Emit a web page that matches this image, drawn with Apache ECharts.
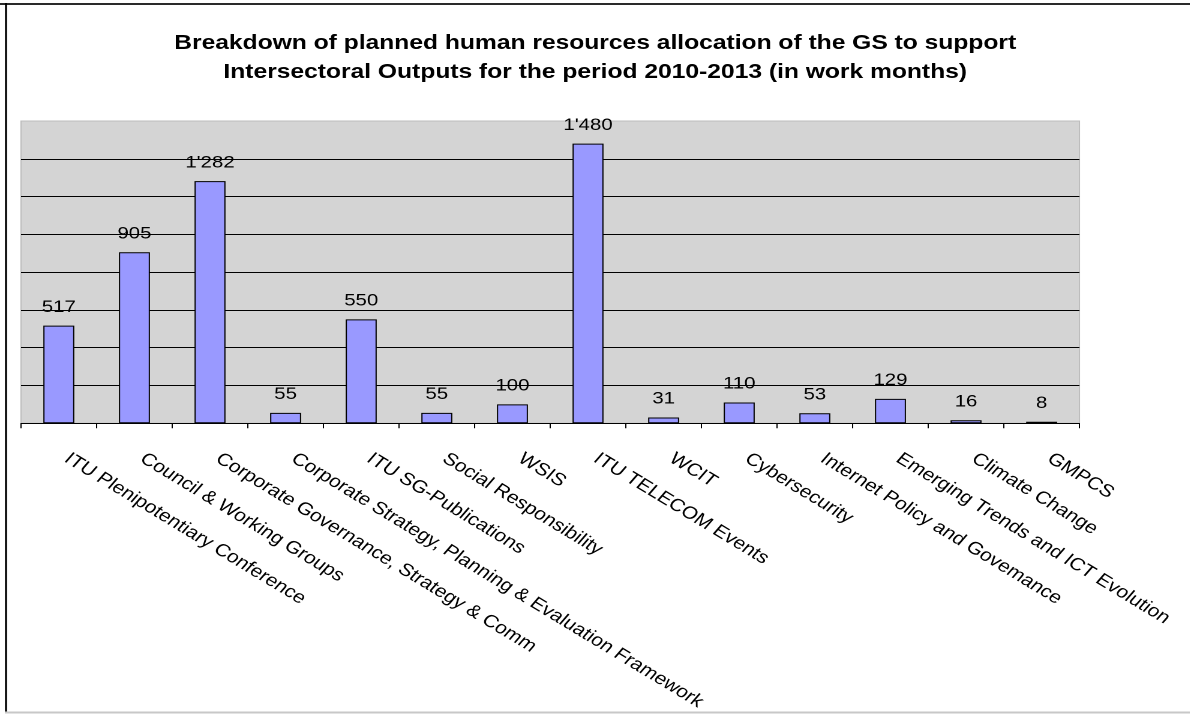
<!DOCTYPE html>
<html>
<head>
<meta charset="utf-8">
<script src="https://cdn.jsdelivr.net/npm/echarts@6/dist/echarts.min.js"></script>
<style>
  html, body { margin: 0; padding: 0; background: #ffffff; overflow: hidden; }
  /* The chart is laid out in a narrower box and widened, giving the broad lettering of the sheet */
  #chart { width: 991.67px; height: 714px; transform: scaleX(1.2); transform-origin: 0 0; }
</style>
</head>
<body>
<div id="chart"></div>
<script>
// Intersectoral outputs and their planned work months (2010-2013)
const categories = [
  'ITU Plenipotentiary Conference',
  'Council & Working Groups',
  'Corporate Governance, Strategy & Comm',
  'Corporate Strategy, Planning & Evaluation Framework',
  'ITU SG-Publications',
  'Social Responsibility',
  'WSIS',
  'ITU TELECOM Events',
  'WCIT',
  'Cybersecurity',
  'Internet Policy and Govemance',
  'Emerging Trends and ICT Evolution',
  'Climate Change',
  'GMPCS'
];
const workMonths = [517, 905, 1282, 55, 550, 55, 100, 1480, 31, 110, 53, 129, 16, 8];
const titleLines = [
  'Breakdown of planned human resources allocation of the GS to support',
  'Intersectoral Outputs for the period 2010-2013 (in work months)'
];

const FONT = "'Liberation Sans', Arial, sans-serif";
const W = 991.67, H = 714;

// thousands separated with an apostrophe, e.g. 1'282
function withApostrophe(v) {
  return String(v).replace(/\B(?=(\d{3})+(?!\d))/g, "'");
}

const chart = echarts.init(document.getElementById('chart'), null, { renderer: 'canvas', devicePixelRatio: 2 });

chart.setOption({
  backgroundColor: '#ffffff',
  animation: false,
  title: {
    text: titleLines.join('\n'),
    left: 'center',
    top: 24,
    textStyle: { fontFamily: FONT, fontSize: 20.5, fontWeight: 'bold', color: '#000000', lineHeight: 29 }
  },
  grid: {
    left: 17.5,
    right: W - 899.2,
    top: 121,
    bottom: H - 423.3,
    show: true,
    backgroundColor: '#d4d4d4',
    borderColor: '#bdbdbd',
    borderWidth: 1
  },
  xAxis: {
    type: 'category',
    data: categories,
    axisLine: { show: true, lineStyle: { color: '#000000', width: 1 } },
    axisTick: { show: true, length: 5, alignWithLabel: false, lineStyle: { color: '#000000' } },
    axisLabel: {
      interval: 0,
      rotate: -36,
      margin: 29,
      padding: [0, 0, 0, 8],
      fontFamily: FONT,
      fontSize: 17.5,
      color: '#000000'
    }
  },
  yAxis: {
    type: 'value',
    min: 0,
    max: 1600,
    interval: 200,
    axisLine: { show: false },
    axisTick: { show: false },
    axisLabel: { show: false },
    splitLine: { show: true, showMinLine: false, showMaxLine: false, lineStyle: { color: '#000000', width: 1 } }
  },
  series: [{
    type: 'bar',
    data: workMonths,
    barWidth: '41%',
    itemStyle: { color: '#9999ff', borderColor: '#000000', borderWidth: 1 },
    label: {
      show: true,
      position: 'top',
      distance: 10,
      fontFamily: FONT,
      fontSize: 17,
      color: '#000000',
      formatter: p => withApostrophe(p.value)
    }
  }],
  graphic: [
    { type: 'line', shape: { x1: 0, y1: 4, x2: W, y2: 4 }, style: { stroke: '#2a2a2a', lineWidth: 2 } },
    { type: 'line', shape: { x1: 5, y1: 3, x2: 5, y2: 713 }, style: { stroke: '#000000', lineWidth: 1.7 } },
    { type: 'line', shape: { x1: 4, y1: 712.5, x2: W, y2: 712.5 }, style: { stroke: '#c8c8c8', lineWidth: 2 } }
  ]
});
</script>
</body>
</html>
